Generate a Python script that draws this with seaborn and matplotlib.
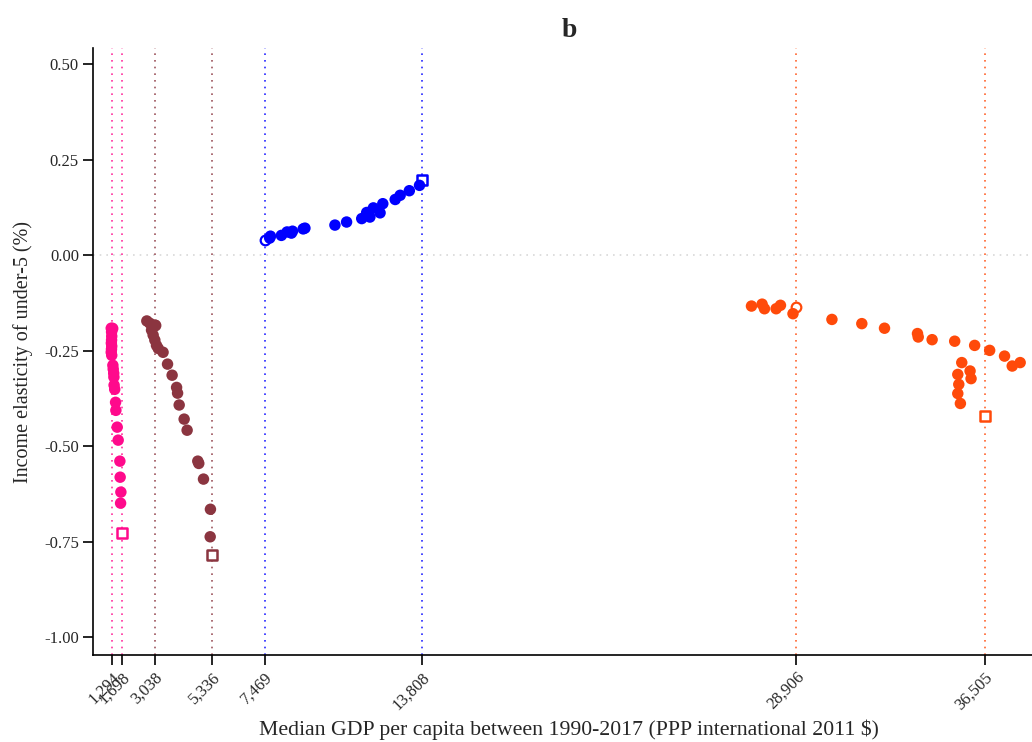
import matplotlib
matplotlib.use("Agg")
import matplotlib.pyplot as plt
import numpy as np
import pandas as pd
import seaborn as sns

# Income elasticity of under-5 mortality vs. GDP per capita, 1990-2017,
# one trajectory per income group (first year = open circle, last year = open square)
pink_gdp = [1294, 1280, 1294, 1300, 1294, 1285, 1300, 1290, 1280, 1300, 1346, 1360, 1380,
            1387, 1395, 1420, 1455, 1467, 1520, 1560, 1628, 1640, 1669, 1657, 1698]
pink_el = [-0.191, -0.191, -0.201, -0.212, -0.222, -0.230, -0.238, -0.246, -0.254, -0.262,
           -0.288, -0.298, -0.309, -0.319, -0.340, -0.351, -0.385, -0.406, -0.450,
           -0.484, -0.539, -0.581, -0.620, -0.649, -0.728]

brown_gdp = [3038, 3038, 2715, 2835, 2905, 2970, 3038, 3105, 3175, 3370, 3550, 3735, 3915,
             3955, 4020, 4220, 4340, 4770, 4810, 5000, 5280, 5270, 5336]
brown_el = [-0.183, -0.183, -0.172, -0.178, -0.196, -0.209, -0.222, -0.236, -0.244, -0.254,
            -0.285, -0.314, -0.346, -0.361, -0.392, -0.429, -0.458, -0.539, -0.545,
            -0.586, -0.665, -0.737, -0.785]

blue_gdp = [7469, 7670, 7700, 8140, 8370, 8545, 8590, 9020, 9090, 10300, 10770, 11380,
            11580, 11710, 11850, 12120, 12230, 12730, 12930, 13300, 13710, 13808]
blue_el = [0.039, 0.045, 0.050, 0.052, 0.061, 0.058, 0.063, 0.069, 0.071, 0.079, 0.087,
           0.096, 0.112, 0.100, 0.124, 0.111, 0.135, 0.146, 0.157, 0.169, 0.183, 0.196]

orange_gdp = [28906, 27096, 27525, 27620, 28090, 28265, 28770, 30340, 31545, 32460,
              33790, 33820, 34380, 35290, 36095, 36700, 37300, 37610, 37930, 35575,
              35910, 35950, 35415, 35455, 35415, 35520, 36505]
orange_el = [-0.136, -0.133, -0.128, -0.140, -0.140, -0.131, -0.153, -0.168, -0.179,
             -0.191, -0.205, -0.214, -0.221, -0.225, -0.236, -0.249, -0.264, -0.290,
             -0.281, -0.281, -0.303, -0.323, -0.312, -0.338, -0.362, -0.388, -0.421]

groups = ["low", "lower-middle", "upper-middle", "high"]
group_colors = ["#ff0a8c", "#8b3540", "#0000ff", "#ff4a0a"]
median_ticks = [1294, 1698, 3038, 5336, 7469, 13808, 28906, 36505]
y_ticks = [-1.00, -0.75, -0.50, -0.25, 0.00, 0.25, 0.50]

frames = []
for g, xs, ys in zip(groups,
                     [pink_gdp, brown_gdp, blue_gdp, orange_gdp],
                     [pink_el, brown_el, blue_el, orange_el]):
    n = len(xs)
    kind = ["start"] + ["mid"] * (n - 2) + ["end"]
    frames.append(pd.DataFrame({"gdp": xs, "elasticity": ys, "group": g, "kind": kind}))
df = pd.concat(frames, ignore_index=True)
palette = dict(zip(groups, group_colors))

sns.set_theme(style="white")
plt.rcParams["font.family"] = ["Liberation Serif", "DejaVu Serif"]
plt.rcParams["axes.unicode_minus"] = False

fig = plt.figure(figsize=(10.32, 7.42), dpi=100)
# plot area runs a little past the right edge of the canvas
ax = fig.add_axes([0.090, 0.117, 0.9234, 0.818])

# reference lines
ax.axhline(0, color="#d8d8d8", lw=1.2, ls=(0, (1, 3)), zorder=0)
for g, c in zip(groups, group_colors):
    sub = df[df.group == g]
    for v in (sub.gdp.iloc[0], sub.gdp.iloc[-1]):
        ax.axvline(v, color=c, lw=1.2, ls=(0, (1, 3)), alpha=0.85, zorder=0)

# first / last year markers
for g, c in zip(groups, group_colors):
    s = df[(df.group == g) & (df.kind == "start")]
    e = df[(df.group == g) & (df.kind == "end")]
    ax.scatter(s.gdp, s.elasticity, marker="o", s=48, facecolor="white",
               edgecolor=c, linewidth=1.6, zorder=2)
    ax.scatter(e.gdp, e.elasticity, marker="s", s=50, facecolor="white",
               edgecolor=c, linewidth=1.8, zorder=2)

sns.scatterplot(data=df[df.kind == "mid"], x="gdp", y="elasticity", hue="group",
                palette=palette, s=68, linewidth=0, legend=False, ax=ax, zorder=3)

ax.set_xlim(540, 38965)
ax.set_ylim(-1.047, 0.542)
ax.set_xticks(median_ticks)
ax.set_xticklabels([f"{v:,}" for v in median_ticks], rotation=45, ha="right",
                   rotation_mode="anchor", fontsize=12)
ax.set_yticks(y_ticks)
ax.set_yticklabels([f"{v:.2f}" for v in y_ticks], fontsize=12)
ax.tick_params(axis="both", direction="out", length=7, width=1.2, color="black",
               left=True, bottom=True, pad=3)

for side in ("top", "right"):
    ax.spines[side].set_visible(False)
for side in ("left", "bottom"):
    ax.spines[side].set_color("black")
    ax.spines[side].set_linewidth(1.2)

ax.set_xlabel("Median GDP per capita between 1990-2017 (PPP international 2011 $)",
              fontsize=15.7, labelpad=5)
ax.set_ylabel("Income elasticity of under-5 (%)", fontsize=14.5, labelpad=8)
ax.set_title("b", fontsize=20, fontweight="bold", pad=8)

fig.savefig("out.png", dpi=100)
